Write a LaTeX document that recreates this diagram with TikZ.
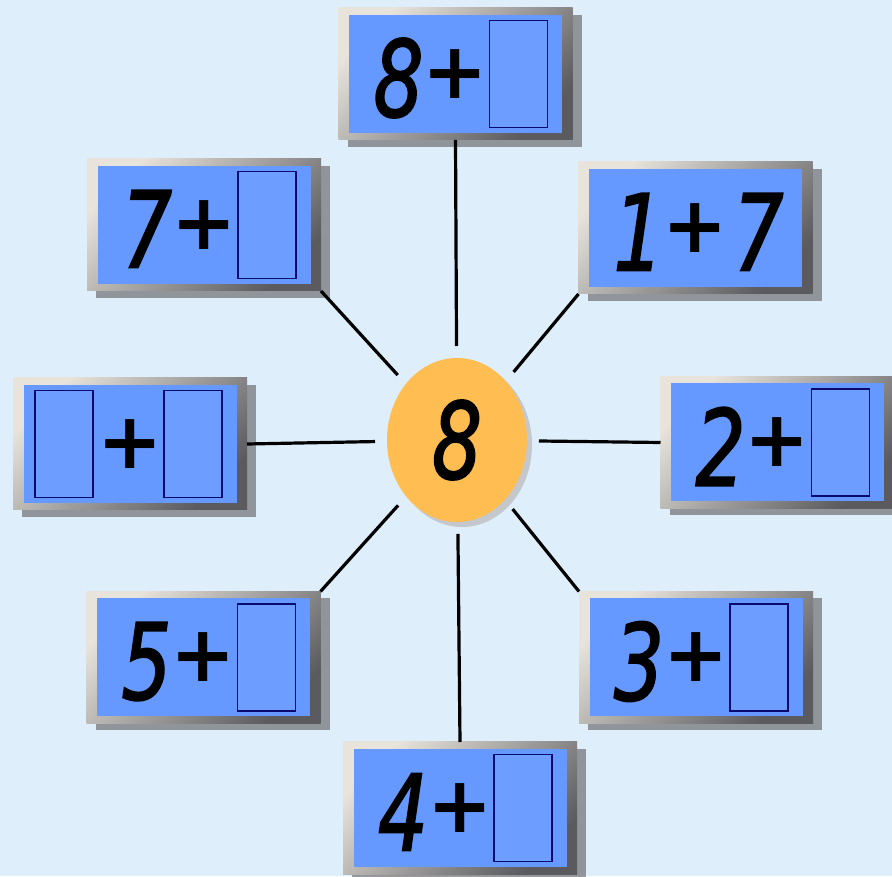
\documentclass[tikz,border=0pt]{standalone}
\usepackage{fontspec}
\setmainfont{DejaVu Sans}
\newfontfamily\hand[FakeStretch=0.74, FakeBold=1.6]{DejaVu Sans}
\usetikzlibrary{shapes.geometric,shadows}
\definecolor{sky}{RGB}{222,238,251}
\definecolor{tileblue}{RGB}{102,153,255}
\definecolor{slotblue}{RGB}{108,157,255}
\definecolor{slotline}{RGB}{10,10,110}
\definecolor{frlight}{RGB}{232,228,220}
\definecolor{frdark}{RGB}{90,90,95}
\definecolor{egg}{RGB}{255,189,82}
\tikzset{
  tile/.style={rectangle, minimum width=234pt, minimum height=132pt, inner sep=0pt, outer sep=0pt,
    top color=frlight, bottom color=frdark, shading angle=45,
    drop shadow={shadow xshift=9pt, shadow yshift=-7pt, fill=black!60, opacity=0.65},
    path picture={\fill[tileblue] ([shift={(10.5pt,7pt)}]path picture bounding box.south west)
      rectangle ([shift={(-10.5pt,-7pt)}]path picture bounding box.north east);}},
  hand/.style={font=\hand\itshape\fontsize{106}{106}\selectfont, inner sep=0pt},
  digit/.style={hand, yshift=-4pt},
  plus/.style={font=\bfseries\fontsize{78}{78}\selectfont, inner sep=0pt},
  slot/.style={draw=slotline, line width=1.5pt, fill=slotblue, minimum width=58pt, minimum height=107pt, inner sep=0pt},
  spoke/.style={line width=3.2pt}
}
\begin{document}
\begin{tikzpicture}[x=1pt,y=1pt]
  \fill[sky] (0,0) rectangle (892,876);
  \useasboundingbox (0,0) rectangle (892,876);

  % the eight tiles round the hub
  \foreach \name/\pos/\lx/\ls/\lt/\rs/\rt in {
      t8/{455.5,802}/-57/digit/8/slot/{},
      t7/{204,651}/-57/digit/7/slot/{},
      t17/{695.5,648}/-57/digit/1/digit/7,
      tbb/{130,432}/-66/slot/{}/slot/{},
      t2/{777.5,433.5}/-57/digit/2/slot/{},
      t5/{203.5,218.5}/-57/digit/5/slot/{},
      t3/{696,218.5}/-57/digit/3/slot/{},
      t4/{460,68}/-57/digit/4/slot/{}}{
    \node[tile] (\name) at (\pos) {};
    \node[\ls] at ([xshift=\lx pt]\name.center) {\lt};
    \node[plus] at (\name.center) {+};
    \node[\rs] at ([xshift=63pt]\name.center) {\rt};
  }

  % hub
  \node[ellipse, minimum width=140pt, minimum height=164pt, fill=egg, outer sep=12pt,
    drop shadow={shadow xshift=5pt, shadow yshift=-5pt, fill=gray!55, opacity=0.7}, hand] (c) at (457,436) {8};

  \foreach \name/\anc in {t8/south, t7/south east, t17/south west, tbb/east,
      t2/west, t5/north east, t3/north west, t4/north}
    \draw[spoke] (\name.\anc) -- (c);
\end{tikzpicture}
\end{document}
